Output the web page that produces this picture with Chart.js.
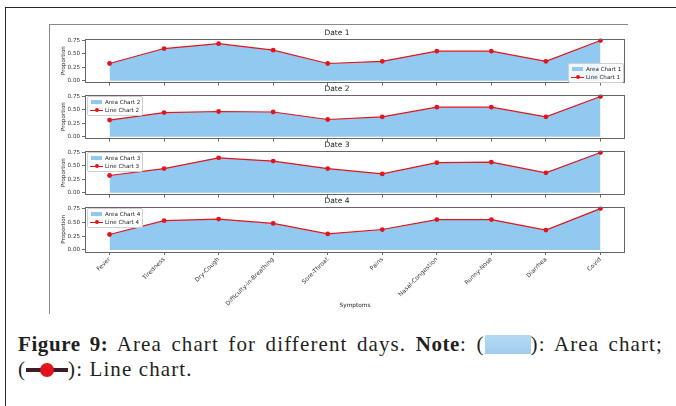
<!DOCTYPE html>
<html>
<head>
<meta charset="utf-8">
<script src="https://cdn.jsdelivr.net/npm/chart.js@4"></script>
<style>
  html,body{margin:0;padding:0;background:#fff;width:676px;height:406px;overflow:hidden;}
  .abs{position:absolute;}
  canvas{position:absolute;}
  .frameTop{left:5px;top:7px;width:671px;height:0;border-top:1.6px solid #2a2a2a;}
  .frameLeft{left:5px;top:7px;width:0;height:399px;border-left:1.6px solid #2a2a2a;}
  .figTop{left:49px;top:24px;width:579px;height:0;border-top:1px solid #8a8a8a;}
  .figLeft{left:49px;top:24px;width:0;height:290px;border-left:1px solid #8a8a8a;}
  .leg{position:absolute;background:rgba(255,255,255,0.85);border:0.6px solid #d0d0d0;border-radius:2px;
       font-family:'DejaVu Sans';font-size:5.6px;color:#222;line-height:8px;padding:1px 2px 1px 2px;}
  .leg .row{position:relative;height:8px;padding-left:15px;white-space:nowrap;}
  .leg .patch{position:absolute;left:1px;top:2px;width:11px;height:4px;background:rgb(145,201,240);}
  .leg .ln{position:absolute;left:0px;top:3.6px;width:13px;height:1.2px;background:rgb(228,20,28);}
  .leg .dot{position:absolute;left:4.5px;top:1.8px;width:4.6px;height:4.6px;border-radius:50%;background:rgb(228,20,28);}
  #cap{position:absolute;left:18px;top:332px;width:645px;font-family:'Liberation Serif';font-size:21px;line-height:25px;color:#231f20;letter-spacing:1.1px;}
  #cap b{font-weight:bold;letter-spacing:0.6px;}
  #cap .l1{text-align:justify;text-align-last:justify;white-space:nowrap;}
  .sw{display:inline-block;width:46px;height:19px;background:linear-gradient(#b5daf3,#9fcdef);vertical-align:-3px;}
  .lm{display:inline-block;position:relative;width:42px;height:16px;vertical-align:-2px;}
  .lm .bar{position:absolute;left:0;top:6px;width:42px;height:4px;background:#3d1a26;}
  .lm .c{position:absolute;left:14px;top:1px;width:14px;height:14px;border-radius:50%;background:#e0141a;}
</style>
</head>
<body>
<div class="abs frameTop"></div>
<div class="abs frameLeft"></div>
<div class="abs figTop"></div>
<div class="abs figLeft"></div>
<div id="charts"></div>
<div id="cap">
  <div class="l1"><b>Figure 9:</b> Area chart for different days. <b>Note</b>: (<span class="sw"></span>): Area chart;</div>
  <div>(<span class="lm"><span class="bar"></span><span class="c"></span></span>): Line chart.</div>
</div>
<script>
// ---- data ----
const categories = ['Fever','Tiredness','Dry-Cough','Difficulty-in-Breathing','Sore-Throat','Pains','Nasal-Congestion','Runny-Nose','Diarrhea','Covid'];
const date1 = [0.32,0.60,0.69,0.57,0.32,0.36,0.55,0.55,0.36,0.75];
const date2 = [0.31,0.45,0.47,0.46,0.32,0.37,0.55,0.55,0.37,0.75];
const date3 = [0.32,0.45,0.65,0.59,0.45,0.35,0.56,0.57,0.37,0.75];
const date4 = [0.28,0.53,0.56,0.48,0.29,0.37,0.55,0.55,0.36,0.75];
const panelTitles = ['Date 1','Date 2','Date 3','Date 4'];
const yTickValues = [0, 0.25, 0.5, 0.75];
const xTitle = 'Symptoms';
const yTitle = 'Proportion';
const seriesList = [date1, date2, date3, date4];

Chart.defaults.font.family = 'DejaVu Sans';
Chart.defaults.color = '#222';

const FILL = 'rgb(145,201,240)';
const RED = 'rgb(228,20,28)';
const panelTop = [38, 94, 150, 206];
const panelH = 46;
const titleBox = 11;
const canvasLeft = 49, canvasW = 586;

const spines = {
  id: 'spines',
  afterDraw(chart) {
    const a = chart.chartArea, ctx = chart.ctx;
    ctx.save();
    ctx.strokeStyle = '#666';
    ctx.lineWidth = 1;
    ctx.strokeRect(Math.round(a.left) + 0.5, Math.round(a.top) + 0.5, Math.round(a.right - a.left) - 1, Math.round(a.bottom - a.top) - 1);
    ctx.restore();
  }
};

const holder = document.getElementById('charts');
seriesList.forEach((vals, i) => {
  const isLast = i === seriesList.length - 1;
  const xAxisH = isLast ? 60 : 4;
  const cv = document.createElement('canvas');
  const h = titleBox + panelH + xAxisH;
  cv.width = canvasW; cv.height = h;
  cv.style.left = canvasLeft + 'px';
  cv.style.top = (panelTop[i] - titleBox) + 'px';
  cv.style.width = canvasW + 'px'; cv.style.height = h + 'px';
  holder.appendChild(cv);
  const pts = vals.map((v, j) => ({x: j, y: v}));
  new Chart(cv, {
    type: 'line',
    data: {
      datasets: [
        {label: 'Area Chart ' + (i + 1), data: pts, fill: 'origin', backgroundColor: FILL,
         borderWidth: 0, borderColor: 'rgba(0,0,0,0)', pointRadius: 0, order: 2},
        {label: 'Line Chart ' + (i + 1), data: pts, fill: false, borderColor: RED, borderWidth: 1.2,
         pointRadius: 2.4, pointBackgroundColor: RED, pointBorderWidth: 0, order: 1}
      ]
    },
    options: {
      responsive: false, animation: false, devicePixelRatio: 1,
      layout: {padding: {left: 0, right: 10, top: 0, bottom: 0}},
      plugins: {
        legend: {display: false}, tooltip: {enabled: false},
        title: {display: true, text: panelTitles[i], color: '#222',
                font: {size: 7.5, weight: 'normal', lineHeight: 1}, padding: {top: 2, bottom: 2}}
      },
      scales: {
        x: {
          type: 'linear', min: -0.45, max: 9.45,
          afterBuildTicks: s => { s.ticks = categories.map((c, j) => ({value: j})); },
          ticks: {display: isLast, autoSkip: false, minRotation: 45, maxRotation: 45, padding: 1,
                  font: {size: 6}, color: '#333', callback: v => categories[v]},
          grid: {drawOnChartArea: false, drawTicks: true, tickLength: 3, tickColor: '#444', tickWidth: 0.8},
          border: {display: false},
          title: {display: isLast, text: xTitle, font: {size: 5.8, lineHeight: 1}, padding: {top: 4, bottom: 4}, color: '#222'},
          afterFit: s => { s.height = xAxisH; }
        },
        y: {
          min: -0.0375, max: 0.7875,
          afterBuildTicks: s => { s.ticks = yTickValues.map(v => ({value: v})); },
          ticks: {padding: 2, font: {size: 5.6}, color: '#333', callback: v => Number(v).toFixed(2)},
          grid: {drawOnChartArea: false, drawTicks: true, tickLength: 3, tickColor: '#444', tickWidth: 0.8},
          border: {display: false},
          title: {display: true, text: yTitle, font: {size: 5.6, lineHeight: 1}, padding: {top: 12, bottom: 0}, color: '#222'},
          afterFit: s => { s.width = 36; }
        }
      }
    },
    plugins: [spines]
  });

  // legend overlay (text as HTML)
  const leg = document.createElement('div');
  leg.className = 'leg';
  leg.innerHTML = '<div class="row"><span class="patch"></span>Area Chart ' + (i + 1) + '</div>' +
                  '<div class="row"><span class="ln"></span><span class="dot"></span>Line Chart ' + (i + 1) + '</div>';
  if (i === 0) {
    leg.style.left = '568px';
    leg.style.top = (panelTop[i] + panelH - 21) + 'px';
  } else {
    leg.style.left = '87px';
    leg.style.top = (panelTop[i] + 2) + 'px';
  }
  document.body.appendChild(leg);
});
</script>
</body>
</html>
